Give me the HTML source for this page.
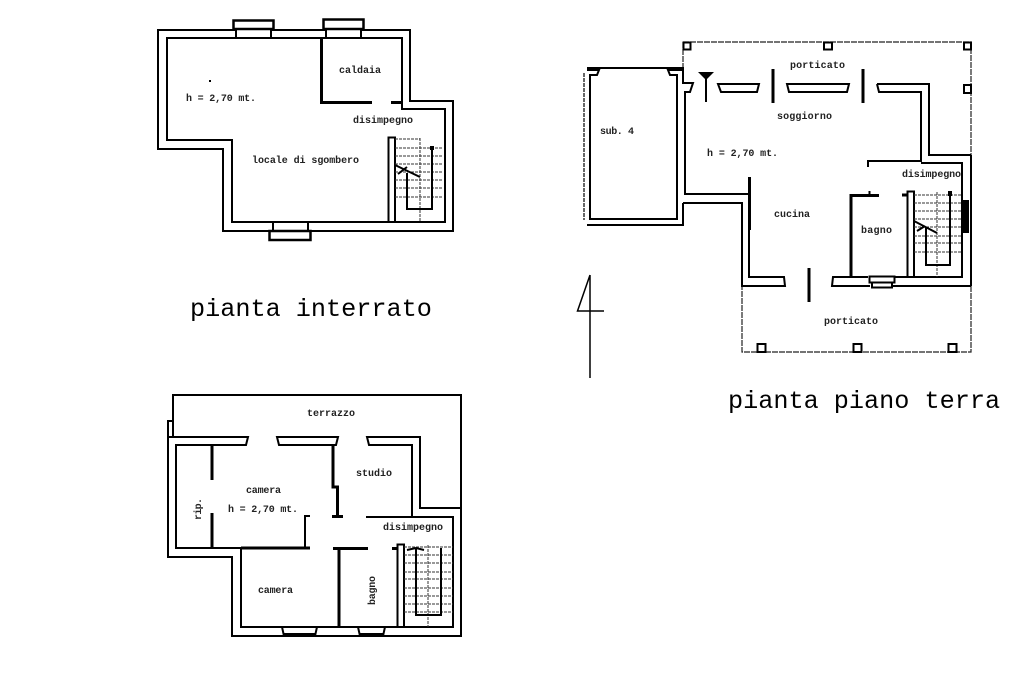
<!DOCTYPE html>
<html><head><meta charset="utf-8"><style>
html,body{margin:0;padding:0;background:#fff}
svg{display:block}
.w{fill:none;stroke:#000;stroke-width:2}
.t{stroke-width:3;fill:none;stroke:#000}
.d{fill:none;stroke:#333;stroke-width:1;stroke-dasharray:3 1}
.o{fill:none;stroke:#222;stroke-width:1.2;stroke-dasharray:6 1}
.s{fill:#fff;stroke:#000;stroke-width:2}
text{font-family:"Liberation Mono",monospace;fill:#000}
.l{font-size:10px;font-weight:bold;fill:#222}
.b{font-size:25.2px}
</style></head><body>
<svg width="1024" height="683" viewBox="0 0 1024 683" xmlns="http://www.w3.org/2000/svg">
<!-- pianta interrato -->
<path class="w" d="M158 30H410V101H453V231H223V149H158Z"/>
<path class="w" d="M167 38H402V109H445V222H232V140H167Z"/>
<g fill="#fff" stroke="#000">
<rect x="236" y="29" width="35" height="9" stroke-width="2"/><rect x="233.500" y="20.500" width="40" height="8.500" stroke-width="2.500"/>
<rect x="326" y="29" width="35" height="9" stroke-width="2"/><rect x="323.500" y="19.500" width="40" height="9.500" stroke-width="2.500"/>
<rect x="273" y="222" width="35" height="9" stroke-width="2"/><rect x="269.500" y="231" width="41" height="9" stroke-width="2.500"/>
</g>
<path class="t" d="M321.500 38V102.500H372M391 102.500H402"/>
<rect x="388.500" y="137.500" width="6.500" height="84.500" fill="#fff" stroke="#000" stroke-width="2"/>
<path class="d" d="M395 139H420M395 148H443M395 156H443M395 164H443M395 172H443M395 180H443M395 188H443M395 197H443M420 138V222"/>
<path class="w" d="M407 173V209H432V148M395 165L420 177M398 174L407 167"/>
<rect x="430" y="146" width="4" height="4"/>
<rect x="209" y="80" width="2" height="2"/>
<text class="l" x="360" y="73" text-anchor="middle">caldaia</text>
<text class="l" x="186" y="101" textLength="70">h = 2,70 mt.</text>
<text class="l" x="353" y="123" textLength="60">disimpegno</text>
<text class="l" x="252" y="163" textLength="107">locale di sgombero</text>
<text class="b" x="190" y="316">pianta interrato</text>

<!-- pianta piano terra -->
<path class="o" d="M683 42H971V352H742V286M683 42V68"/>
<path d="M971 155V286" stroke="#000" stroke-width="2" fill="none"/>
<g class="s">
<rect x="683.500" y="42.500" width="7" height="7" class="s"/>
<rect x="824" y="42.500" width="8" height="7" class="s"/>
<rect x="964" y="42.500" width="7" height="7" class="s"/>
<rect x="964" y="85" width="7" height="8" class="s"/>
<rect x="757.500" y="344" width="8" height="8" class="s"/>
<rect x="853.500" y="344" width="8" height="8" class="s"/>
<rect x="948.500" y="344" width="8" height="8" class="s"/>
</g>
<path class="w" d="M587 68H683V83H693L690 92H685V194H749M683 203H742V286H785L784 277H749V177"/>
<path class="w" d="M683 203V225H587"/>
<path d="M749.500 177V230" stroke="#000" stroke-width="3" fill="none"/>
<path class="w" d="M587 70H599L597 75H590V219H677V75H670L668 70H683"/>
<path d="M584 73V220" stroke="#333" stroke-width="1.500" stroke-dasharray="4 1" fill="none"/>
<path class="w" d="M718 84H759L757 92H721Z"/>
<path class="w" d="M787 84H849L847 92H789Z"/>
<path class="w" d="M877 84H929V155H971M877 84L879 92H921V161H868V167"/>
<path class="w" d="M921 163H962V277H893M971 286H893"/>
<path class="w" d="M868 277H833L832 286H870"/>
<path class="t" d="M773 69V103M863 69V103M809 268V302"/>
<path d="M698 72H714L706 80Z" fill="#000"/>
<path d="M706 78V102" stroke="#000" stroke-width="2"/>
<path class="t" d="M851 277V195.500H879" stroke-width="2.500"/>
<path d="M869.500 191V195" stroke="#000" stroke-width="2"/>
<rect x="869.500" y="276.500" width="25" height="6" fill="#fff" stroke="#000" stroke-width="2"/>
<rect x="872" y="282.500" width="20" height="5" fill="#fff" stroke="#000" stroke-width="2"/>
<rect x="907.500" y="191.500" width="6.500" height="85.500" fill="#fff" stroke="#000" stroke-width="2"/>
<path class="t" d="M902 195H907"/>
<path class="d" d="M914 195H962M914 203H962M914 211H962M914 219H962M914 227H962M914 236H962M914 243H962M914 252H962M937 192V277"/>
<path class="w" d="M926 227V265H950V193M914 221L937 233M917 231L925 226"/>
<rect x="948" y="191" width="4" height="5"/>
<rect x="963" y="200" width="6" height="33"/>
<text class="l" x="790" y="68" textLength="55">porticato</text>
<text class="l" x="777" y="119" textLength="55">soggiorno</text>
<text class="l" x="600" y="134" textLength="34">sub. 4</text>
<text class="l" x="707" y="156" textLength="71">h = 2,70 mt.</text>
<text class="l" x="902" y="177" textLength="59">disimpegno</text>
<text class="l" x="774" y="217" textLength="36">cucina</text>
<text class="l" x="861" y="233" textLength="31">bagno</text>
<text class="l" x="824" y="324" textLength="54">porticato</text>
<text class="b" x="728" y="408">pianta piano terra</text>

<!-- north -->
<path d="M590 275V378M590 275L577.500 311H604" fill="none" stroke="#000" stroke-width="1.500"/>

<!-- piano primo -->
<path class="w" d="M173 421V395H461V636H232V557H168V421H173V437M168 437H248L246 445H176V548H310M461 508H420V437H367L369 445H412V517H366M412 517H453V627H241V548"/>
<path class="w" d="M277 437H338L336 445H279Z"/>
<path class="w" d="M305 548V516H310"/>
<path class="t" d="M333 445V487H337.500V516M332 516.500H343M212 445V480M212 513V548M333 548.500H368M339 548V627M392 548.500H397M241 548H310"/>
<rect x="397.500" y="544.500" width="6.500" height="82.500" fill="#fff" stroke="#000" stroke-width="2"/>
<path class="d" d="M404 547H453M404 555H453M404 563H453M404 572H453M404 579H453M404 588H453M404 596H453M404 604H453M404 612H453M428 545V627"/>
<path class="w" d="M416 548V615H441V548M407 550L416 548L424 550"/>
<g fill="#fff" stroke="#000" stroke-width="2">
<path d="M282 627H317L315 636H284Z"/>
<path d="M358 627H385L383 636H360Z"/>
</g>
<path d="M284 634H315M360 634H383" stroke="#000" stroke-width="2"/>
<text class="l" x="307" y="416" textLength="48">terrazzo</text>
<text class="l" x="356" y="476" textLength="36">studio</text>
<text class="l" x="246" y="493" textLength="35">camera</text>
<text class="l" x="228" y="512" textLength="70">h = 2,70 mt.</text>
<text class="l" x="383" y="530" textLength="60">disimpegno</text>
<text class="l" x="258" y="593" textLength="35">camera</text>
<text class="l" transform="translate(375 605) rotate(-90)" textLength="29">bagno</text>
<text class="l" transform="translate(201 520) rotate(-90)" textLength="22">rip.</text>
</svg>
</body></html>
